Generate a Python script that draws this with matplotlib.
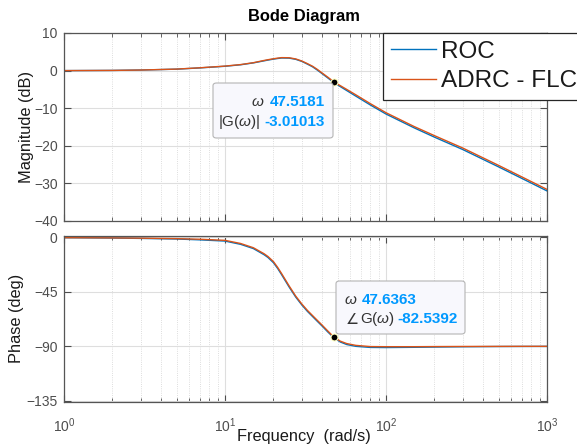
import matplotlib
matplotlib.use("Agg")
import matplotlib.pyplot as plt
from matplotlib.patches import FancyBboxPatch
from matplotlib.ticker import LogLocator, NullFormatter, FixedLocator

plt.rcParams['font.family'] = ['Liberation Sans', 'DejaVu Sans']
plt.rcParams['mathtext.fontset'] = 'custom'
plt.rcParams['mathtext.rm'] = 'Liberation Sans'
plt.rcParams['mathtext.it'] = 'Liberation Sans:italic'
plt.rcParams['mathtext.bf'] = 'Liberation Sans:bold'

# frequency points (rad/s)
freq = [1, 2, 3, 5, 7, 10, 12.5, 15, 17.5, 18.5, 20, 21.25, 22.5, 25, 27.5, 30,
        32.5, 35, 37.5, 40, 43.5, 47.5, 52, 57, 65, 80, 100, 150, 200, 300, 500,
        700, 1000]

mag_roc = [0.0, 0.05, 0.15, 0.38, 0.72, 1.15, 1.55, 2.05, 2.6, 2.8, 3.05, 3.22,
           3.35, 3.32, 3.0, 2.45, 1.72, 1.0, 0.12, -0.78, -1.95, -3.2, -4.25, -5.3,
           -6.8, -9.15, -11.55, -15.25, -17.7, -21.0, -25.6, -28.7, -32.0]
mag_adrc = [0.0, 0.05, 0.15, 0.4, 0.75, 1.2, 1.6, 2.1, 2.7, 2.9, 3.15, 3.32,
            3.45, 3.42, 3.1, 2.55, 1.85, 1.15, 0.3, -0.6, -1.75, -3.0, -4.0, -5.0,
            -6.45, -8.8, -11.2, -14.9, -17.3, -20.6, -25.2, -28.3, -31.6]

phase_roc = [-0.2, -0.5, -0.8, -1.3, -2.0, -3.0, -5.7, -9.2, -14.3, -16.6, -20.9,
             -25.7, -30.9, -40.9, -49.3, -55.8, -61.1, -65.4, -69.4, -73.1, -78.1,
             -83.0, -86.4, -88.5, -90.0, -90.9, -91.0, -90.8, -90.6, -90.35, -90.15,
             -90.1, -90.05]
phase_adrc = [-0.2, -0.4, -0.6, -1.0, -1.5, -2.4, -5.0, -8.5, -13.5, -15.8, -20.0,
              -24.8, -30.0, -40.0, -48.5, -55.0, -60.3, -64.6, -68.6, -72.3, -77.3,
              -82.4, -85.7, -87.7, -89.2, -90.2, -90.3, -90.3, -90.2, -90.1, -90.05,
              -90.0, -90.0]

series_names = ['ROC', 'ADRC - FLC']
series_colors = ['#0072BD', '#D95319']

mag_ticks = [-40, -30, -20, -10, 0, 10]
phase_ticks = [-135, -90, -45, 0]
freq_ticks = [1, 10, 100, 1000]
freq_labels = ['$10^0$', '$10^1$', '$10^2$', '$10^3$']

# data tips
tip_mag = (47.5181, -3.01013)
tip_phase = (47.6363, -82.5392)

W, H = 577, 448


def px(x, y):
    return (x / W, 1 - y / H)


fig = plt.figure(figsize=(W / 100, H / 100), dpi=100)
ax1 = fig.add_axes([64 / W, 1 - 221 / H, 483 / W, 188 / H])
ax2 = fig.add_axes([64 / W, 1 - 402 / H, 483 / W, 166.5 / H])


def style(ax):
    ax.set_xscale('log')
    ax.set_xlim(1, 1000)
    ax.xaxis.set_major_locator(FixedLocator(freq_ticks))
    ax.xaxis.set_minor_locator(LogLocator(base=10, subs=range(2, 10), numticks=20))
    ax.xaxis.set_minor_formatter(NullFormatter())
    ax.grid(True, which='major', color='#dedede', lw=0.8)
    ax.grid(True, which='minor', axis='x', color='#d2d2d2', lw=0.6, ls=':')
    ax.set_axisbelow(True)
    ax.tick_params(which='both', direction='in', top=True, right=True,
                   colors='#4d4d4d', labelsize=10)
    ax.tick_params(which='major', length=5, width=0.8)
    ax.tick_params(which='minor', length=3, width=0.6)
    ax.tick_params(axis='y', pad=4.5)
    for s in ax.spines.values():
        s.set_color('#555555')
        s.set_linewidth(0.9)


style(ax1)
style(ax2)

# magnitude
for vals, name, c in zip([mag_roc, mag_adrc], series_names, series_colors):
    ax1.plot(freq, vals, color=c, lw=1.0, label=name)
ax1.set_ylim(-40, 10)
ax1.set_yticks(mag_ticks)
ax1.set_xticklabels([])
ax1.set_ylabel('Magnitude (dB)', fontsize=11.8, color='#1a1a1a')
ax1.yaxis.set_label_coords(-0.063, 0.5)
ax1.plot(*tip_mag, 'o', ms=5, mfc='k', mec='#ffffc0', mew=0.8, zorder=6)

# phase
for vals, c in zip([phase_roc, phase_adrc], series_colors):
    ax2.plot(freq, vals, color=c, lw=1.0)
ax2.set_ylim(-136, 1.6)
ax2.set_yticks(phase_ticks)
ax2.set_xticklabels(freq_labels)
ax2.tick_params(axis='x', pad=10.5)
ax2.set_ylabel('Phase (deg)', fontsize=11.8, color='#1a1a1a')
ax2.yaxis.set_label_coords(-0.082, 0.5)
ax2.set_xlabel('Frequency  (rad/s)', fontsize=11.8, color='#1a1a1a')
ax2.xaxis.set_label_coords(0.497, -0.16)
ax2.plot(*tip_phase, 'o', ms=5, mfc='k', mec='#ffffc0', mew=0.8, zorder=6)

fig.text(*px(304, 16), 'Bode Diagram', fontsize=11.9, fontweight='bold',
         ha='center', va='center', color='#000000')

leg = ax1.legend(loc='upper left', bbox_to_anchor=px(383, 33),
                 bbox_transform=fig.transFigure, fontsize=17.5, frameon=True,
                 fancybox=False, edgecolor='#262626', framealpha=1,
                 handlelength=1.85, handletextpad=0.2, borderpad=0.32,
                 labelspacing=0.3, borderaxespad=0)
leg.get_frame().set_linewidth(0.9)
for t in leg.get_texts():
    t.set_color('#1a1a1a')


# data tip boxes
def tip_box(ax, x0, y0, x1, y1):
    box = FancyBboxPatch(px(x0, y1), (x1 - x0) / W, (y1 - y0) / H,
                         boxstyle='round,pad=0,rounding_size=0.006',
                         transform=fig.transFigure, fc='#f8f8fd', ec='#b5b5b5',
                         lw=0.8, zorder=7, clip_on=False)
    ax.add_patch(box)


tip_col = '#0099FF'
lab_col = '#333333'

tip_box(ax1, 213, 83, 333, 138)
fig.text(*px(264, 102.3), r'$\omega$', fontsize=11, color=lab_col, ha='right', va='center')
fig.text(*px(325, 102.3), f'{tip_mag[0]:.4f}', fontsize=11, color=tip_col,
         fontweight='bold', ha='right', va='center')
fig.text(*px(260, 121.7), r'|G($\omega$)|', fontsize=11, color=lab_col, ha='right', va='center')
fig.text(*px(325, 121.7), f'{tip_mag[1]:.5f}', fontsize=11, color=tip_col,
         fontweight='bold', ha='right', va='center')

tip_box(ax2, 336, 281, 465, 334)
fig.text(*px(344.5, 300), r'$\omega$', fontsize=11, color=lab_col, ha='left', va='center')
fig.text(*px(362, 300), f'{tip_phase[0]:.4f}', fontsize=11, color=tip_col,
         fontweight='bold', ha='left', va='center')
fig.text(*px(345.5, 319.3), '∠', fontsize=10.5, color=lab_col, ha='left', va='center',
         family='DejaVu Sans')
fig.text(*px(359.5, 319.3), r'G($\omega$)', fontsize=11, color=lab_col, ha='left', va='center')
fig.text(*px(397.3, 319.3), f'{tip_phase[1]:.4f}', fontsize=11, color=tip_col,
         fontweight='bold', ha='left', va='center')

fig.savefig('out.png', dpi=100)
